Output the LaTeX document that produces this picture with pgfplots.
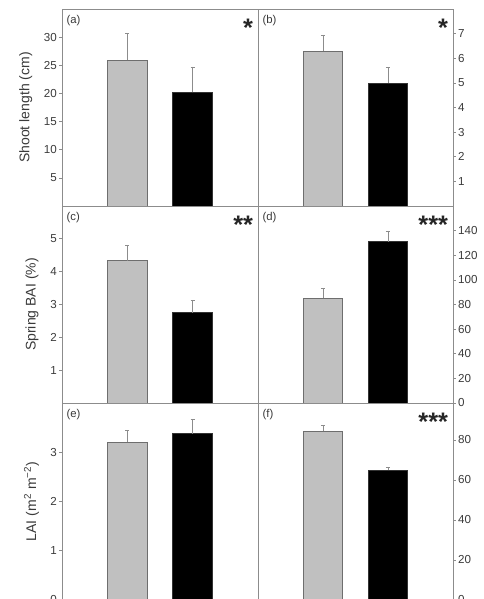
\documentclass[border=0pt]{standalone}
\usepackage{pgfplots}
\pgfplotsset{compat=1.18}
\usepackage{fontspec}
\setmainfont{Liberation Sans}
\definecolor{barg}{HTML}{C0C0C0}
\definecolor{edgeg}{HTML}{6E6E6E}
\definecolor{axg}{HTML}{8C8C8C}
\definecolor{txt}{HTML}{3A3A3A}
\pgfplotsset{
  panel/.style={
    scale only axis, height=147.75pt,
    xmin=0, xmax=3, xtick=\empty, ymin=0,
    axis line style={axg, line width=0.6pt},
    tick style={axg, line width=0.5pt},
    tick align=outside, major tick length=2.2pt,
    /pgf/number format/assume math mode=true,
    ticklabel style={font=\fontsize{8.7}{10}\selectfont, text=txt},
    yticklabel style={inner sep=1.5pt},
    ylabel style={font=\fontsize{10.5}{12}\selectfont, text=txt},
    clip=false,
  },
  leftp/.style={panel, width=147pt, ytick pos=left},
  rightp/.style={panel, width=146.25pt, ytick pos=right, yticklabel pos=right},
  gbar/.style={ybar, bar shift=0pt, bar width=0.61, fill=barg, draw=edgeg, line width=0.5pt,
    error bars/.cd, y dir=plus, y explicit,
    error bar style={axg, line width=0.5pt},
    error mark options={rotate=90, mark size=1.6pt, axg, line width=0.5pt}},
  kbar/.style={ybar, bar shift=0pt, bar width=0.61, fill=black, draw=black!80, line width=0.5pt,
    error bars/.cd, y dir=plus, y explicit,
    error bar style={axg, line width=0.5pt},
    error mark options={rotate=90, mark size=1.6pt, axg, line width=0.5pt}},
}
\newcommand{\plab}[1]{\node[anchor=north west, font=\fontsize{8.5}{10}\selectfont, text=txt, inner sep=0pt] at ([xshift=3.3pt,yshift=-4.2pt]rel axis cs:0,1) {#1};}
\newcommand{\sig}[1]{\node[anchor=base east, font=\bfseries\fontsize{19}{19}\selectfont, text=black!85, inner sep=0pt] at ([xshift=-3.5pt,yshift=-20.5pt]rel axis cs:1,1) {#1};}
\begin{document}
\begin{tikzpicture}
\path[use as bounding box] (0,0) rectangle (362.25pt,449.25pt);
\clip (0,0) rectangle (362.25pt,449.25pt);
% (a)
\begin{axis}[leftp, at={(46.5pt,294.75pt)}, anchor=south west, ymax=35, ytick={5,10,...,30},
  ylabel={Shoot length (cm)}, ylabel style={at={(axis description cs:-0.185,0.5)}, anchor=center}]
\addplot[gbar] coordinates {(1,25.85) +- (0,4.85)};
\addplot[kbar] coordinates {(2,20.2) +- (0,4.5)};
\plab{(a)}\sig{*}
\end{axis}
% (b)
\begin{axis}[rightp, at={(193.5pt,294.75pt)}, anchor=south west, ymax=8, ytick={1,...,7}]
\addplot[gbar] coordinates {(1,6.3) +- (0,0.65)};
\addplot[kbar] coordinates {(2,5.0) +- (0,0.64)};
\plab{(b)}\sig{*}
\end{axis}
% (c)
\begin{axis}[leftp, at={(46.5pt,147pt)}, anchor=south west, ymax=6, ytick={1,...,5},
  ylabel={Spring BAI (\%)}, ylabel style={at={(axis description cs:-0.153,0.5)}, anchor=center}]
\addplot[gbar] coordinates {(1,4.33) +- (0,0.48)};
\addplot[kbar] coordinates {(2,2.75) +- (0,0.38)};
\plab{(c)}\sig{**}
\end{axis}
% (d)
\begin{axis}[rightp, at={(193.5pt,147pt)}, anchor=south west, ymax=160, ytick={0,20,...,140}]
\addplot[gbar] coordinates {(1,85.0) +- (0,8.1)};
\addplot[kbar] coordinates {(2,131.1) +- (0,8.6)};
\plab{(d)}\sig{***}
\end{axis}
% (e)
\begin{axis}[leftp, at={(46.5pt,-0.75pt)}, anchor=south west, ymax=4, ytick={0,1,2,3},
  ylabel={LAI (m\textsuperscript{2} m\textsuperscript{−2})}, ylabel style={at={(axis description cs:-0.155,0.5)}, anchor=center}]
\addplot[gbar] coordinates {(1,3.2) +- (0,0.25)};
\addplot[kbar] coordinates {(2,3.38) +- (0,0.29)};
\plab{(e)}
\end{axis}
% (f)
\begin{axis}[rightp, at={(193.5pt,-0.75pt)}, anchor=south west, ymax=98.5, ytick={0,20,...,80}]
\addplot[gbar] coordinates {(1,84.3) +- (0,3.0)};
\addplot[kbar] coordinates {(2,65.0) +- (0,1.5)};
\plab{(f)}\sig{***}
\end{axis}
\end{tikzpicture}
\end{document}
